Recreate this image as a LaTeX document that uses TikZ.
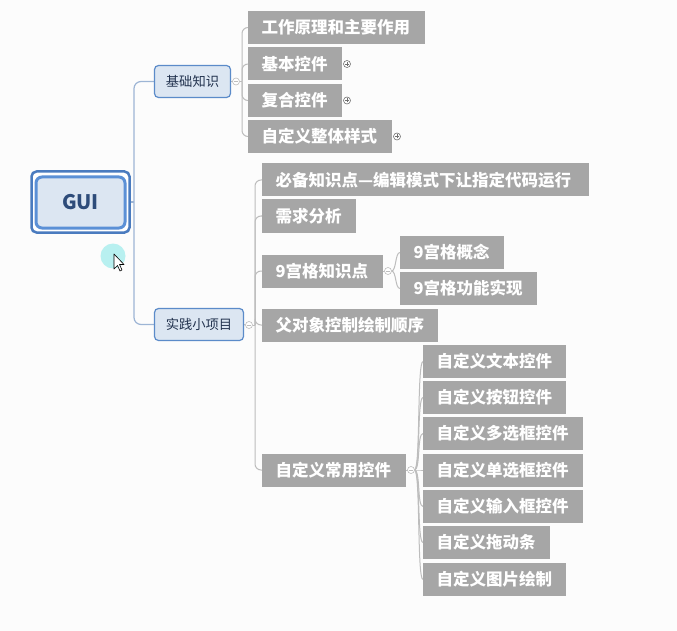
\documentclass[tikz,border=0pt]{standalone}
\usepackage{fontspec}
\setmainfont{Noto Sans CJK SC}
\usetikzlibrary{calc,backgrounds}
\definecolor{bg}{HTML}{FCFCFC}
\definecolor{boxgray}{HTML}{A6A6A6}
\definecolor{lblue}{HTML}{DCE6F2}
\definecolor{mblue}{HTML}{5B8BC9}
\definecolor{dblue}{HTML}{4A7BBF}
\definecolor{iblue}{HTML}{5B90D6}
\definecolor{conblue}{HTML}{9DB5D5}
\definecolor{congray}{HTML}{BDBDBD}
\definecolor{plusgray}{HTML}{707070}
\definecolor{txtblue}{HTML}{2E4C7A}
\definecolor{txtdark}{HTML}{22324E}
\definecolor{cursorcyan}{HTML}{B8F0F0}
\begin{document}
\begin{tikzpicture}[x=1pt,y=-1pt,
  gbox/.style={fill=boxgray, text=white, font=\bfseries\fontsize{16.5}{19}\selectfont,
    anchor=west, inner xsep=13.5pt, inner ysep=0pt, minimum height=33pt, align=left, outer sep=0pt},
  topic/.style={fill=lblue, draw=mblue, line width=1.2pt, rounded corners=4pt, text=txtdark,
    font=\fontsize{13.3}{15}\selectfont, minimum height=32pt, inner sep=0pt, outer sep=0pt},
  bcon/.style={draw=conblue, line width=1.2pt, rounded corners=7pt},
  gcon/.style={draw=congray, line width=1pt, rounded corners=6pt},
  minus/.style={circle, draw=congray, fill=white, line width=0.6pt, minimum size=7pt, inner sep=0pt, outer sep=0pt,
    path picture={\draw[congray, line width=0.6pt] ([xshift=-2pt]path picture bounding box.center) -- ([xshift=2pt]path picture bounding box.center);}},
  plus/.style={circle, draw=plusgray, fill=white, line width=0.6pt, minimum size=7pt, inner sep=0pt, outer sep=0pt,
    path picture={\draw[plusgray, line width=0.6pt] ([xshift=-2pt]path picture bounding box.center) -- ([xshift=2pt]path picture bounding box.center)
      ([yshift=-2pt]path picture bounding box.center) -- ([yshift=2pt]path picture bounding box.center);}}
]
\useasboundingbox (0,0) rectangle (677,631);

% root
\node[draw=dblue, line width=2.5pt, fill=white, rounded corners=5pt, minimum width=98pt, minimum height=61pt, outer sep=0pt] (guio) at (80.5,202) {};
\node[draw=iblue, line width=3pt, fill=lblue, rounded corners=6pt, minimum width=89pt, minimum height=51pt, outer sep=0pt,
  text=txtblue, font=\bfseries\fontsize{20}{24}\selectfont] (gui) at (80.5,202.5) {GUI};

% main topics
\node[topic, minimum width=76pt] (jc) at (192.5,81.5) {基础知识};
\node[topic, minimum width=89pt] (sj) at (199,324.5) {实践小项目};

% children of 基础知识
\node[gbox, text width=150pt] (b1) at (248,27.5) {工作原理和主要作用};
\node[gbox, text width=67pt] (b2) at (248,64) {基本控件};
\node[gbox, text width=67pt] (b3) at (248,100.5) {复合控件};
\node[gbox, text width=117pt] (b4) at (248,136.5) {自定义整体样式};

% children of 实践小项目
\node[gbox, text width=300pt] (s1) at (262,180) {必备知识点—编辑模式下让指定代码运行};
\node[gbox, text width=67pt] (s2) at (262,216) {需求分析};
\node[gbox, text width=94pt] (s3) at (262,271) {9宫格知识点};
\node[gbox, text width=149pt] (s4) at (262,325) {父对象控制绘制顺序};
\node[gbox, text width=117pt] (s5) at (262,470) {自定义常用控件};

\node[gbox, text width=77pt] (j1) at (400,252.5) {9宫格概念};
\node[gbox, text width=110pt] (j2) at (400,288.5) {9宫格功能实现};

\node[gbox, text width=116pt] (k1) at (423,361.5) {自定义文本控件};
\node[gbox, text width=116pt] (k2) at (423,397.5) {自定义按钮控件};
\node[gbox, text width=133pt] (k3) at (423,433.5) {自定义多选框控件};
\node[gbox, text width=133pt] (k4) at (423,470) {自定义单选框控件};
\node[gbox, text width=133pt] (k5) at (423,506.5) {自定义输入框控件};
\node[gbox, text width=100pt] (k6) at (423,542.5) {自定义拖动条};
\node[gbox, text width=116pt] (k7) at (423,579.5) {自定义图片绘制};

% collapse / expand markers
\node[minus] (c1) at (236,81.5) {};
\node[minus] (c2) at (249,325) {};
\node[minus] (c3) at (388,271) {};
\node[minus] (c4) at (411,470) {};
\node[plus] (p1) at ($(b2.east)+(5,0)$) {};
\node[plus] (p2) at ($(b3.east)+(5,0)$) {};
\node[plus] (p3) at ($(b4.east)+(5,0)$) {};

\coordinate (t0) at (134,202);
\coordinate (t1) at (242,81.5);
\coordinate (t2) at (255,325);

\begin{scope}[on background layer]
  \fill[bg] (0,0) rectangle (677,631);
  % root connectors
  \draw[bcon] (guio.east) -- (t0);
  \draw[bcon] (jc.west) -| (t0) |- (sj.west);
  % 基础知识
  \draw[gcon] (jc.east) -- (c1.west);
  \draw[gcon] (c1.east) -- (t1);
  \foreach \n in {b1,b2,b3,b4} \draw[gcon] (t1) |- (\n.west);
  % 实践小项目
  \draw[gcon] (sj.east) -- (c2.west);
  \draw[gcon] (c2.east) -- (t2);
  \foreach \n in {s1,s2,s3,s4,s5} \draw[gcon] (t2) |- (\n.west);
  % 9宫格知识点
  \draw[gcon] (s3.east) -- (c3.west);
  \foreach \n in {j1,j2} \draw[gcon] (c3.east) .. controls +(5,0) and +(-5,0) .. (\n.west);
  % 自定义常用控件
  \draw[gcon] (s5.east) -- (c4.west);
  \foreach \n in {k1,k2,k3,k4,k5,k6,k7} \draw[gcon] (c4.east) .. controls +(6,0) and +(-6,0) .. (\n.west);
\end{scope}

% mouse cursor
\fill[cursorcyan] (113,256) circle (12.5);
\draw[fill=white, line width=0.6pt, line join=round]
  (114,254) -- ++(0,15) -- ++(3.5,-3.5) -- ++(2.5,5.5) -- ++(2,-1) -- ++(-2.5,-5.5) -- ++(4.5,0) -- cycle;
\end{tikzpicture}
\end{document}
